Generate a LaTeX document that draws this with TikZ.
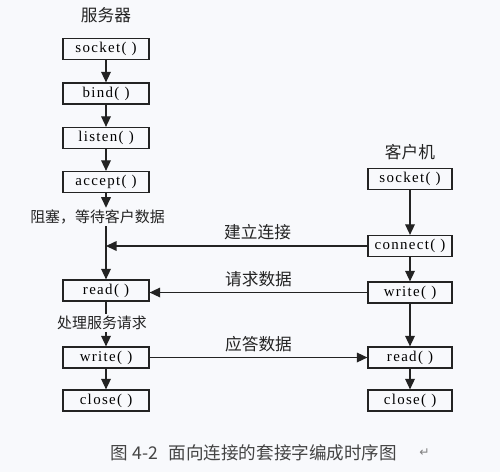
\documentclass[tikz,border=0pt]{standalone}
\usepackage{fontspec}
\setmainfont{Liberation Serif}
\newfontfamily\apifont[LetterSpace=9]{Liberation Serif}
\newfontfamily\cjk{Noto Sans CJK SC}
\newfontfamily\symfont{DejaVu Sans}
\usetikzlibrary{positioning,arrows.meta}
\definecolor{paper}{RGB}{248,249,252}
\definecolor{ink}{RGB}{35,35,35}
\tikzstyle{callbox} = [rectangle, draw=ink, line width=0.7pt, fill=paper, minimum width=1.72cm, minimum height=0.42cm, inner sep=0pt, font=\apifont\fontsize{8.5}{10}\selectfont]
\tikzstyle{cbox} = [callbox, minimum width=1.68cm]
\tikzstyle{head} = [font=\cjk\fontsize{9.5}{11}\selectfont, text=ink, inner sep=1pt]
\tikzstyle{note} = [font=\cjk\fontsize{8.5}{10}\selectfont, text=ink, inner sep=1pt]
\tikzstyle{arrow} = [line width=0.7pt, draw=ink, -{Triangle[length=6pt,width=5.5pt]}]
\tikzstyle{wire} = [line width=0.7pt, draw=ink]

\begin{document}
\begin{tikzpicture}[node distance=1cm]
		\fill[paper] (0,0) rectangle (10,-9.44);
		\useasboundingbox (0,0) rectangle (10,-9.44);
		
		% server side
		\node (server) [head] at (2.12,-0.30) {服务器};
		\node (ssocket) [callbox, below of=server, node distance=0.68cm] {socket( )};
		\node (sbind) [callbox, below of=ssocket, node distance=0.89cm] {bind( )};
		\node (slisten) [callbox, below of=sbind, node distance=0.89cm] {listen( )};
		\node (saccept) [callbox, below of=slisten, node distance=0.88cm] {accept( )};
		\node (swait) [note, below of=saccept, node distance=0.70cm, xshift=-0.17cm] {阻塞，等待客户数据};
		\node (sread) [callbox, below of=saccept, node distance=2.17cm] {read( )};
		\node (sproc) [note, below of=sread, node distance=0.65cm, xshift=-0.08cm] {处理服务请求};
		\node (swrite) [callbox, below of=sread, node distance=1.34cm] {write( )};
		\node (sclose) [callbox, below of=swrite, node distance=0.86cm] {close( )};
		
		% client side
		\node (cwrite) [cbox, right of=sread, node distance=6.08cm, yshift=-0.04cm] {write( )};
		\node (cconnect) [cbox, above of=cwrite, node distance=0.93cm] {connect( )};
		\node (csocket) [cbox, above of=cconnect, node distance=1.34cm] {socket( )};
		\node (client) [head, above of=csocket, node distance=0.54cm] {客户机};
		\node (cread) [cbox, right of=swrite, node distance=6.08cm] {read( )};
		\node (cclose) [cbox, right of=sclose, node distance=6.08cm] {close( )};
		
		\draw [arrow] (ssocket) -- (sbind);
		\draw [arrow] (sbind) -- (slisten);
		\draw [arrow] (slisten) -- (saccept);
		\draw [arrow] (saccept) -- (saccept |- swait.north);
		\draw [arrow] (swait.south -| sread) -- (sread);
		\draw [wire] (sread) -- (sread |- sproc.north);
		\draw [arrow] (sproc.south -| swrite) -- (swrite);
		\draw [arrow] (swrite) -- (sclose);
		
		\draw [arrow] (csocket) -- (cconnect);
		\draw [arrow] (cconnect) -- (cwrite);
		\draw [arrow] (cwrite) -- (cread);
		\draw [arrow] (cread) -- (cclose);
		
		% messages
		\draw [arrow] (cconnect) -- (cconnect -| sread) node (lconnect) [head, pos=0.42, above=2pt] {建立连接};
		\draw [arrow] (cwrite) -- (cwrite -| sread.east) node (lrequest) [head, midway, above=2pt] {请求数据};
		\draw [arrow] (swrite) -- (cread) node (lreply) [head, midway, above=2pt] {应答数据};
		
		\node (caption) [font=\cjk\fontsize{10}{12}\selectfont, text=ink!85] at (5.08,-9.06) {图 4-2\hspace{0.6em}面向连接的套接字编成时序图};
		\node (mark) [right=0.2cm of caption, font=\symfont\fontsize{7}{7}\selectfont, text=gray] {↵};
		
	\end{tikzpicture}
\end{document}
